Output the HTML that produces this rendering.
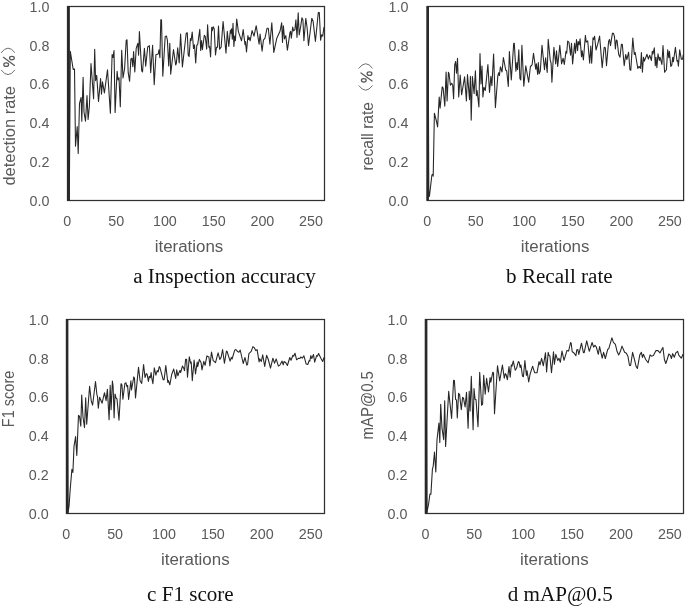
<!DOCTYPE html>
<html><head><meta charset="utf-8">
<style>
html,body{margin:0;padding:0;background:#fff;}
body{width:685px;height:607px;overflow:hidden;position:relative;font-family:"Liberation Sans",sans-serif;}
svg{position:absolute;left:0;top:0;filter:grayscale(1);}
.t{font-family:"Liberation Sans",sans-serif;font-size:14.3px;fill:#595959;}
.a{font-family:"Liberation Sans",sans-serif;font-size:16px;fill:#595959;}
.c{font-family:"Liberation Serif",serif;font-size:21.1px;fill:#111;}
.f{fill:none;stroke:#303030;stroke-width:1.25;}
.b{fill:#2e2e2e;}
.d{fill:none;stroke:#272727;stroke-width:1.08;stroke-linejoin:round;}
</style></head><body>
<svg width="685" height="607" viewBox="0 0 685 607">
<!-- frames -->
<rect class="f" x="67.5" y="6.5" width="257" height="194"/>
<rect class="f" x="427.2" y="6.5" width="256.4" height="194"/>
<rect class="f" x="66.5" y="319.5" width="258" height="194"/>
<rect class="f" x="425.5" y="319.5" width="258" height="194"/>
<!-- spike bars -->
<rect class="b" x="67" y="6" width="2.9" height="194.6"/>
<rect class="b" x="426.5" y="6" width="2.5" height="194.6"/>
<rect class="b" x="65.9" y="319" width="2.5" height="194.6"/>
<rect class="b" x="424.8" y="319" width="2.6" height="194.6"/>
<!-- y labels a -->
<g class="t" text-anchor="end">
<text x="49.4" y="11.8">1.0</text><text x="49.4" y="50.6">0.8</text><text x="49.4" y="89.4">0.6</text><text x="49.4" y="128.2">0.4</text><text x="49.4" y="167">0.2</text><text x="49.4" y="205.8">0.0</text>
<text x="408.4" y="11.8">1.0</text><text x="408.4" y="50.6">0.8</text><text x="408.4" y="89.4">0.6</text><text x="408.4" y="128.2">0.4</text><text x="408.4" y="167">0.2</text><text x="408.4" y="205.8">0.0</text>
<text x="48.6" y="324.8">1.0</text><text x="48.6" y="363.6">0.8</text><text x="48.6" y="402.4">0.6</text><text x="48.6" y="441.2">0.4</text><text x="48.6" y="480">0.2</text><text x="48.6" y="518.8">0.0</text>
<text x="407.4" y="324.8">1.0</text><text x="407.4" y="363.6">0.8</text><text x="407.4" y="402.4">0.6</text><text x="407.4" y="441.2">0.4</text><text x="407.4" y="480">0.2</text><text x="407.4" y="518.8">0.0</text>
</g>
<!-- x labels -->
<g class="t" text-anchor="middle">
<text x="67.3" y="226.1">0</text><text x="116.2" y="226.1">50</text><text x="164.9" y="226.1">100</text><text x="213.7" y="226.1">150</text><text x="262.4" y="226.1">200</text><text x="311" y="226.1">250</text>
<text x="427.3" y="226.1">0</text><text x="475.8" y="226.1">50</text><text x="524.3" y="226.1">100</text><text x="572.8" y="226.1">150</text><text x="621.4" y="226.1">200</text><text x="669.9" y="226.1">250</text>
<text x="66.2" y="538.9">0</text><text x="115.1" y="538.9">50</text><text x="164" y="538.9">100</text><text x="212.9" y="538.9">150</text><text x="261.8" y="538.9">200</text><text x="310.8" y="538.9">250</text>
<text x="425.4" y="538.9">0</text><text x="474.3" y="538.9">50</text><text x="523.2" y="538.9">100</text><text x="572.1" y="538.9">150</text><text x="621" y="538.9">200</text><text x="669.9" y="538.9">250</text>
</g>
<g class="a" text-anchor="middle">
<text x="189" y="251.7" textLength="68.6" lengthAdjust="spacingAndGlyphs">iterations</text><text x="555.1" y="251.7" textLength="68.6" lengthAdjust="spacingAndGlyphs">iterations</text><text x="195.3" y="564.5" textLength="68.6" lengthAdjust="spacingAndGlyphs">iterations</text><text x="554.4" y="564.5" textLength="68.6" lengthAdjust="spacingAndGlyphs">iterations</text>
</g>
<!-- y titles -->
<g class="a">
<g transform="translate(14.6,185.6) rotate(-90)"><text x="0" y="0" textLength="99.6" lengthAdjust="spacingAndGlyphs">detection rate</text></g>
<g transform="translate(372.6,170.4) rotate(-90)"><text x="0" y="0" textLength="68.4" lengthAdjust="spacingAndGlyphs">recall rate</text></g>
<g transform="translate(14.2,427.2) rotate(-90)"><text x="0" y="0" textLength="56.5" lengthAdjust="spacingAndGlyphs">F1 score</text></g>
<g transform="translate(373.1,439.4) rotate(-90)"><text x="0" y="0" textLength="68.3" lengthAdjust="spacingAndGlyphs">mAP@0.5</text></g>
</g>
<g id="pc" fill="none" stroke="#595959" stroke-width="1.25" stroke-linecap="round"><path stroke-width="0.95" stroke="#666" d="M1.3 52.6 Q8 43.5 14.7 52.4"/><path stroke-width="0.95" stroke="#666" d="M1.4 70.2 Q8 79.3 14.7 70.2"/><ellipse cx="11.9" cy="58.1" rx="2.4" ry="1.75"/><ellipse cx="6.2" cy="64.7" rx="2.4" ry="1.75"/><path d="M3.4 57.3 L14.5 65.4"/></g>
<use href="#pc" transform="translate(357.6,15.6)"/>
<!-- captions -->
<g class="c" text-anchor="middle">
<text x="224.5" y="283.1">a Inspection accuracy</text>
<text x="559.4" y="282.6">b Recall rate</text>
<text x="190.4" y="600.8" textLength="86.6" lengthAdjust="spacingAndGlyphs">c F1 score</text>
<text x="560.2" y="600.8">d mAP@0.5</text>
</g>
<!-- data -->
<g id="data">
<path class="d" d="M67.6 200.4 L68.4 6.6 L69.3 200.2 L70.3 51.4 L73.2 69.4 L74.5 69.0 L75.5 146.3 L77.2 126.5 L78.2 153.5 L79.5 103.4 L81.1 97.5 L81.8 121.2 L83.1 77.3 L84.0 112.0 L85.5 121.2 L87.0 95.5 L88.1 119.5 L89.4 106.0 L91.0 63.5 L93.6 98.8 L94.7 49.2 L95.6 80.6 L96.7 75.3 L98.5 101.5 L100.6 78.6 L101.5 94.2 L102.5 81.9 L104.4 92.9 L107.5 69.8 L110.4 113.3 L112.1 54.5 L113.0 57.5 L114.0 50.6 L115.1 112.4 L117.1 71.4 L118.0 80.0 L119.0 77.7 L120.3 106.7 L121.7 50.3 L123.0 78.0 L124.6 68.7 L126.2 40.4 L127.0 39.8 L128.2 72.7 L129.6 81.3 L130.9 58.9 L131.9 58.2 L132.8 66.8 L133.6 51.6 L134.8 72.0 L136.2 48.3 L137.8 43.4 L138.6 55.3 L139.4 31.6 L141.7 70.7 L142.5 72.0 L144.4 48.3 L145.7 66.1 L147.7 47.0 L149.4 45.7 L150.7 72.7 L152.6 45.2 L154.2 84.7 L155.9 54.8 L158.2 54.0 L159.0 49.8 L159.9 57.7 L160.8 19.8 L161.5 19.8 L162.8 76.1 L165.2 36.4 L166.5 36.0 L167.4 40.3 L168.7 65.9 L169.8 43.2 L170.7 74.2 L173.5 49.5 L175.7 65.0 L176.4 63.0 L177.7 47.8 L179.2 63.0 L180.6 34.0 L182.4 66.9 L186.2 33.3 L187.3 32.7 L188.2 55.0 L189.1 56.6 L190.4 38.6 L191.1 40.6 L192.2 32.0 L193.5 48.5 L194.5 44.8 L195.7 63.0 L196.8 45.2 L197.7 44.5 L199.8 29.4 L200.7 50.5 L201.6 40.6 L202.4 49.8 L204.3 35.3 L205.3 36.6 L206.7 49.1 L207.6 24.8 L208.9 47.2 L209.6 46.5 L210.6 57.0 L211.7 27.4 L212.3 30.7 L213.2 26.7 L214.2 28.7 L215.5 55.0 L216.5 47.2 L217.5 47.2 L218.5 26.0 L219.6 49.1 L221.1 47.2 L223.1 21.5 L226.0 53.1 L227.3 31.4 L228.8 46.5 L230.4 30.0 L231.0 33.3 L231.7 28.7 L232.3 39.3 L233.0 23.4 L233.9 46.5 L234.7 36.0 L235.4 40.6 L236.7 19.0 L238.4 31.6 L241.5 40.8 L243.2 29.6 L245.0 44.8 L245.5 41.5 L246.5 52.0 L247.9 35.6 L248.5 39.5 L249.2 37.5 L250.1 40.8 L252.1 30.6 L254.0 36.2 L256.2 25.7 L259.1 44.1 L260.1 34.0 L262.1 51.1 L263.4 40.2 L265.0 38.2 L267.0 28.3 L268.3 28.3 L269.9 44.1 L271.8 22.7 L273.8 52.4 L276.8 38.2 L280.1 31.0 L281.7 22.7 L282.5 42.4 L283.4 25.7 L284.5 38.9 L285.8 35.6 L287.4 50.1 L290.0 32.3 L290.7 31.4 L291.3 38.2 L292.7 27.0 L293.6 31.0 L294.9 29.6 L295.9 19.8 L297.0 37.5 L298.2 12.9 L299.2 34.9 L300.6 27.0 L301.9 17.8 L302.9 19.8 L303.9 40.6 L305.8 18.4 L307.1 27.7 L308.5 45.5 L311.8 18.2 L313.1 21.1 L315.4 41.5 L318.3 12.5 L319.3 12.5 L320.6 40.2 L321.6 34.9 L322.7 36.2 L324.0 27.0"/>
<path class="d" d="M427.4 200.4 L428.1 6.6 L428.8 196.4 L429.4 196.4 L431.9 175.0 L432.9 174.2 L433.2 176.2 L434.4 113.2 L436.5 121.5 L437.6 127.0 L439.2 97.0 L440.1 108.2 L442.2 86.9 L443.1 87.8 L444.8 106.3 L446.1 72.0 L447.1 101.0 L448.4 72.4 L449.0 73.3 L450.4 85.2 L451.7 83.2 L452.7 85.2 L453.6 98.8 L454.7 64.8 L455.6 61.5 L456.5 73.3 L457.5 58.2 L458.7 97.0 L460.2 75.0 L461.6 94.8 L464.6 76.9 L466.4 101.0 L467.5 74.6 L469.5 99.7 L470.4 76.4 L471.2 120.1 L472.4 76.6 L474.1 93.8 L475.4 70.7 L476.4 95.7 L477.1 90.5 L478.9 106.9 L480.0 53.6 L481.0 83.9 L482.0 66.1 L482.9 97.0 L483.9 87.2 L485.3 90.5 L487.9 64.5 L489.5 92.4 L490.9 76.4 L491.9 85.8 L493.6 54.0 L495.4 107.6 L497.8 76.0 L498.7 72.7 L499.4 75.6 L500.4 66.7 L502.0 72.0 L503.4 57.5 L505.7 70.0 L506.7 70.7 L508.3 86.5 L509.4 51.6 L511.3 80.0 L513.7 43.4 L514.3 43.4 L515.9 71.1 L516.9 62.5 L517.6 69.8 L518.8 49.8 L519.9 78.4 L520.8 80.0 L521.9 45.4 L523.8 86.3 L525.8 65.8 L528.7 82.3 L530.4 66.5 L532.1 64.8 L533.5 53.3 L535.7 69.1 L536.4 63.9 L537.7 74.4 L538.3 62.5 L539.2 73.7 L540.3 71.1 L542.0 45.4 L544.5 69.8 L545.6 57.7 L547.2 72.4 L548.2 39.2 L550.2 59.9 L551.1 63.2 L551.9 82.3 L553.9 47.4 L555.7 63.9 L556.5 50.7 L557.7 66.5 L559.8 45.4 L561.6 63.9 L563.1 58.2 L564.3 64.5 L566.0 51.4 L566.7 53.3 L567.7 41.1 L568.9 42.1 L570.6 55.3 L571.5 43.4 L572.6 63.9 L574.6 43.4 L575.5 53.3 L576.5 39.5 L577.6 50.7 L578.2 41.5 L579.2 44.8 L580.1 38.8 L581.5 56.6 L582.2 50.7 L583.4 59.9 L585.4 35.3 L586.2 42.1 L587.7 40.8 L589.7 63.2 L590.8 46.1 L591.7 63.2 L593.0 37.9 L593.7 39.5 L594.6 36.2 L596.0 50.0 L597.9 43.3 L599.6 36.1 L602.2 67.7 L604.2 47.3 L605.3 47.7 L606.5 65.7 L608.6 41.4 L609.5 39.4 L610.5 45.6 L612.4 33.4 L613.4 33.2 L614.5 36.7 L615.4 49.0 L616.3 40.0 L617.1 40.7 L618.7 54.5 L620.0 57.2 L621.4 44.2 L622.3 44.2 L624.2 65.7 L625.7 54.5 L626.9 59.5 L628.6 52.2 L629.9 69.7 L630.8 70.3 L632.8 38.1 L634.3 54.5 L635.2 52.5 L637.8 68.4 L639.1 66.4 L640.5 68.4 L641.4 52.5 L642.4 72.3 L643.5 57.2 L644.4 61.1 L647.0 54.3 L648.4 59.1 L649.7 55.2 L651.4 60.5 L652.3 51.2 L653.0 53.9 L654.3 47.9 L655.3 65.7 L656.0 57.2 L656.9 67.7 L658.0 53.9 L659.3 60.5 L660.0 57.2 L661.9 64.4 L663.0 45.6 L664.6 72.3 L666.4 69.7 L667.7 49.9 L668.8 57.8 L669.4 51.2 L670.8 66.4 L671.8 65.1 L672.7 57.2 L673.4 61.8 L675.4 47.3 L677.0 61.1 L677.7 60.5 L678.4 66.1 L679.7 49.9 L681.3 59.1 L682.6 59.1 L683.3 54.5"/>
<path class="d" d="M66.6 513.4 L67.3 319.6 L68.0 513.0 L69.1 505.7 L70.2 489.2 L71.9 469.4 L72.9 472.4 L74.0 446.4 L75.6 436.6 L76.8 455.4 L78.5 415.3 L79.5 416.4 L80.8 426.3 L81.7 395.0 L83.0 417.0 L84.5 427.6 L85.7 397.9 L86.7 424.3 L89.6 386.3 L91.3 401.2 L92.6 405.2 L95.5 381.5 L96.9 394.6 L97.5 396.6 L98.3 408.2 L99.6 397.3 L102.1 403.2 L104.5 392.7 L106.1 400.6 L107.4 389.4 L109.1 419.7 L110.2 385.4 L111.1 409.8 L112.4 381.1 L113.1 386.1 L114.1 417.7 L115.0 394.0 L116.1 398.2 L117.0 399.0 L119.0 420.3 L121.0 383.7 L121.9 384.8 L122.9 399.3 L124.9 383.4 L126.0 382.8 L126.9 386.7 L127.6 385.4 L128.6 399.5 L130.9 380.8 L131.5 390.0 L133.8 376.9 L134.5 378.2 L135.5 397.9 L138.5 367.4 L140.1 380.8 L141.7 383.4 L143.6 364.5 L145.0 377.5 L146.3 373.6 L147.1 374.2 L148.4 381.5 L149.3 376.2 L150.3 377.8 L151.1 372.5 L152.0 379.1 L152.9 383.7 L154.3 367.9 L155.9 375.2 L157.2 370.6 L158.2 371.9 L159.2 366.6 L159.9 367.3 L163.2 379.8 L164.1 379.8 L165.8 365.6 L167.8 382.4 L168.4 380.5 L169.8 384.8 L171.7 374.5 L173.7 369.0 L175.7 378.5 L176.7 369.9 L177.9 375.8 L179.2 371.9 L179.9 370.6 L180.6 372.5 L182.5 366.0 L183.6 367.9 L184.5 370.6 L185.6 359.4 L186.6 359.4 L187.5 377.2 L189.3 356.7 L190.6 363.3 L191.2 362.0 L192.3 380.8 L194.1 360.0 L195.5 373.9 L197.2 362.0 L197.7 366.6 L199.4 359.4 L201.1 362.7 L202.0 369.9 L203.8 361.4 L205.1 365.3 L206.9 355.8 L208.0 356.7 L208.9 356.7 L209.9 366.0 L211.5 352.1 L213.2 360.7 L215.5 362.7 L218.1 352.8 L219.8 359.4 L221.1 357.4 L222.6 349.5 L224.4 363.3 L226.4 351.1 L227.1 351.5 L230.1 361.1 L231.3 357.4 L232.1 359.0 L234.7 350.2 L235.9 349.5 L237.6 351.6 L238.9 352.3 L240.2 350.0 L243.2 363.5 L245.0 357.5 L246.8 365.1 L247.6 364.1 L248.9 353.6 L251.2 351.4 L252.9 346.6 L254.4 347.9 L255.8 350.6 L257.1 349.6 L259.1 361.9 L259.7 358.9 L261.3 361.5 L262.7 354.9 L264.7 366.4 L266.6 355.3 L268.3 359.5 L270.5 368.1 L272.9 358.2 L274.5 363.2 L276.2 358.9 L278.4 366.1 L279.9 365.1 L282.1 361.1 L283.2 364.8 L284.1 361.5 L285.8 362.8 L287.4 365.5 L289.8 357.5 L291.1 360.2 L292.9 355.3 L293.7 356.2 L295.0 353.2 L296.6 359.8 L298.6 358.2 L299.9 358.5 L300.8 356.9 L302.3 358.2 L303.9 355.8 L306.2 364.1 L307.8 364.5 L309.1 360.6 L309.8 361.1 L310.8 355.6 L311.8 358.5 L313.5 354.5 L314.7 362.2 L316.6 355.6 L317.4 356.2 L318.6 353.6 L321.0 358.5 L322.7 361.5 L324.0 357.5"/>
<path class="d" d="M425.6 513.4 L426.3 319.6 L426.9 513.0 L427.4 509.8 L428.6 504.0 L429.9 494.1 L430.9 494.1 L432.4 469.4 L433.2 466.1 L434.5 452.1 L435.8 471.9 L437.0 439.8 L438.9 423.0 L439.8 442.5 L440.7 404.3 L442.0 428.2 L443.7 439.6 L444.7 400.8 L445.6 446.4 L448.7 391.4 L451.6 418.4 L453.6 380.2 L454.4 380.5 L455.6 399.5 L456.5 399.9 L457.3 418.0 L458.6 393.3 L459.6 394.6 L461.3 409.8 L462.6 397.3 L463.5 398.2 L465.1 406.9 L466.5 392.4 L468.1 428.2 L469.2 391.4 L470.1 411.1 L471.3 376.2 L473.1 429.8 L474.0 388.5 L475.1 399.5 L476.0 399.5 L478.0 426.7 L479.7 372.2 L481.6 405.2 L482.6 404.3 L483.7 375.3 L485.2 394.2 L486.6 378.2 L488.5 392.0 L490.1 377.5 L490.8 382.1 L492.8 372.2 L493.5 372.9 L494.5 413.7 L497.5 365.7 L499.7 380.8 L502.4 365.0 L504.3 378.2 L505.3 373.6 L506.1 374.5 L507.4 379.8 L509.0 366.6 L510.2 377.2 L511.3 364.9 L512.0 366.2 L513.3 361.0 L515.2 370.2 L516.6 368.2 L518.3 361.6 L519.2 362.3 L520.1 367.5 L520.9 364.9 L522.5 376.1 L523.4 376.8 L524.9 360.6 L526.4 375.5 L527.1 370.8 L528.7 382.0 L530.1 374.1 L532.6 366.2 L534.7 372.8 L537.0 372.8 L539.0 361.6 L540.0 364.9 L541.6 358.3 L543.3 365.8 L545.5 352.7 L546.6 371.9 L548.2 352.4 L549.1 355.7 L549.9 355.7 L551.5 372.8 L553.5 351.7 L554.4 364.3 L555.8 354.4 L557.8 360.6 L559.0 358.3 L560.3 362.3 L562.0 351.1 L564.0 360.3 L567.0 350.4 L568.6 351.1 L570.6 342.5 L571.2 343.2 L572.2 351.7 L573.5 352.4 L575.9 355.7 L576.8 349.8 L577.8 349.5 L578.8 354.4 L581.5 343.2 L583.4 352.7 L584.2 352.7 L586.7 340.8 L589.3 351.3 L592.1 342.5 L593.6 347.1 L595.0 345.3 L596.3 347.0 L598.3 354.3 L599.6 346.6 L602.2 358.2 L603.6 352.3 L605.3 358.5 L607.8 349.2 L608.8 348.7 L611.9 337.8 L613.4 342.4 L615.4 344.4 L617.1 351.6 L618.7 354.9 L620.3 351.6 L622.0 346.1 L624.6 352.3 L626.4 353.2 L627.9 356.2 L629.5 365.5 L630.6 365.5 L632.6 352.3 L634.3 358.9 L636.1 366.4 L637.4 368.5 L639.8 354.9 L641.4 352.3 L642.4 357.5 L643.4 354.3 L645.7 359.5 L648.1 362.8 L650.1 354.9 L651.4 356.2 L653.4 355.6 L656.0 350.6 L658.0 350.6 L658.9 351.6 L660.0 352.9 L660.9 351.0 L662.9 347.4 L664.4 359.5 L665.8 363.5 L667.2 359.5 L668.8 354.0 L670.4 355.3 L671.4 358.5 L672.7 353.6 L674.3 357.2 L675.8 352.9 L677.6 351.4 L678.9 355.3 L681.3 358.2 L683.0 354.3"/>
</g>
</svg>
</body></html>
